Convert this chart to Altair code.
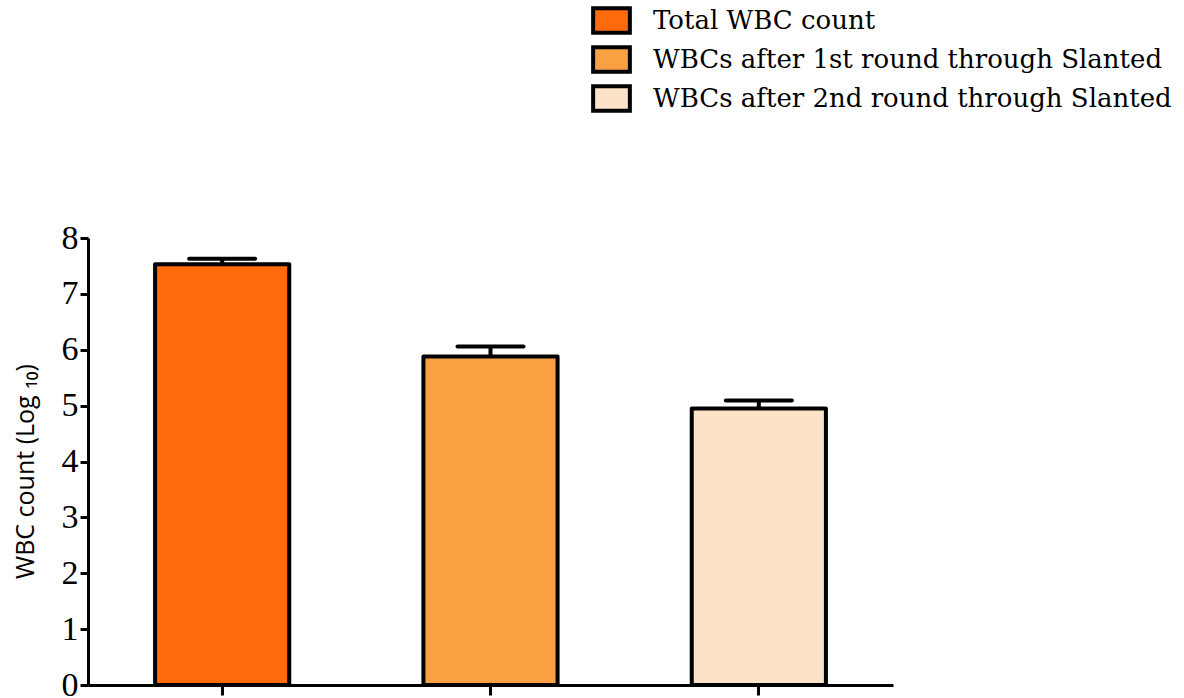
import altair as alt
import pandas as pd

groups = ["Total WBC count", "WBCs after 1st round through Slanted", "WBCs after 2nd round through Slanted"]
means = [7.53, 5.88, 4.95]
errors = [0.10, 0.18, 0.14]
colors = ["#FF6A0D", "#F9A043", "#FCE2C6"]

df = pd.DataFrame({"group": groups, "mean": means, "err": errors})
df["top"] = df["mean"] + df["err"]

xenc = alt.X("group:N", sort=groups, scale=alt.Scale(paddingInner=0.5, paddingOuter=0.25),
             axis=alt.Axis(labels=False, title=None, ticks=True, tickSize=10, tickWidth=3,
                           tickColor="black", domainColor="black", domainWidth=3))

bars = alt.Chart(df).mark_bar(stroke="black", strokeWidth=4, strokeJoin="round").encode(
    x=xenc,
    y=alt.Y("mean:Q", scale=alt.Scale(domain=[0, 8], nice=False),
            axis=alt.Axis(values=list(range(0, 9)), format="d", title="WBC count (Log ₁₀)", grid=False,
                          tickSize=8, tickWidth=3, tickColor="black", domainColor="black",
                          domainWidth=3, labelFont="Liberation Serif", labelFontSize=34,
                          labelColor="black", labelPadding=2,
                          titleFont="Open Sans", titleFontSize=25, titleFontWeight="normal",
                          titleColor="black", titleX=-50, titleY=233, titleBaseline="bottom",
                          titleAngle=270, titleAlign="center")),
    fill=alt.Fill("group:N", sort=groups, scale=alt.Scale(domain=groups, range=colors),
                  legend=alt.Legend(title=None, orient="none", legendX=509, legendY=-232,
                                    symbolType="M-1.5,-1L1.5,-1L1.5,1L-1.5,1Z", symbolSize=600,
                                    symbolStrokeColor="black", symbolStrokeWidth=4,
                                    labelFont="DejaVu Serif", labelFontSize=26,
                                    labelColor="black", labelLimit=700, labelOffset=27,
                                    rowPadding=-2, symbolOpacity=1)),
)

stems = alt.Chart(df).mark_rule(color="black", strokeWidth=4).encode(
    x=alt.X("group:N", sort=groups), y="mean:Q", y2="top:Q")

caps = alt.Chart(df).mark_tick(color="black", thickness=4, size=70, cornerRadius=2, opacity=1).encode(
    x=alt.X("group:N", sort=groups), y="top:Q")

chart = alt.layer(bars, stems, caps).properties(
    width=805, height=447,
    background="white",
    autosize=alt.AutoSizeParams(type="none"),
    padding={"left": 88, "top": 238, "right": 291, "bottom": 13},
).configure_view(stroke=None, strokeWidth=0)

chart.save("out.html", embed_options={"renderer": "svg", "actions": False})
